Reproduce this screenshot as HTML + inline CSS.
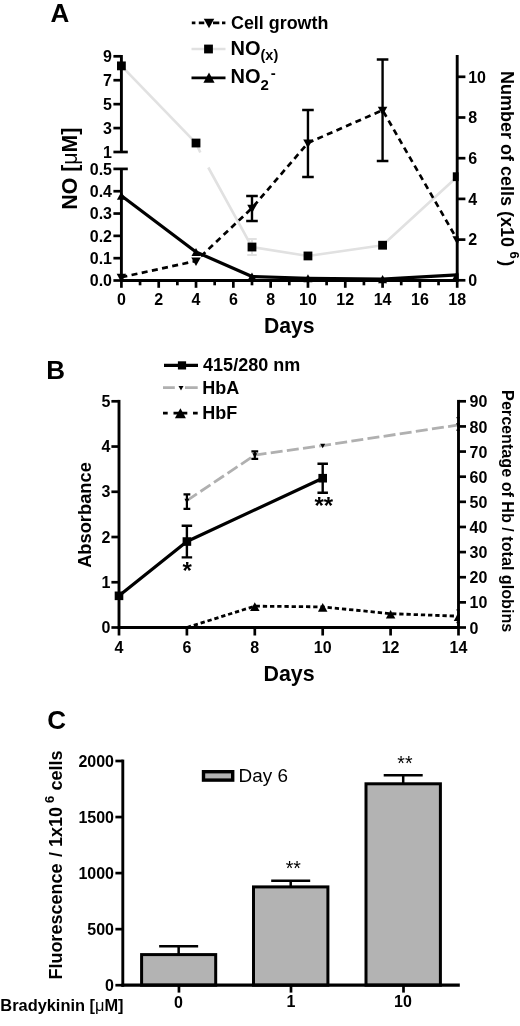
<!DOCTYPE html>
<html lang="en"><head><meta charset="utf-8"><title>Figure</title>
<style>html,body{margin:0;padding:0;background:#fff;}body{width:520px;height:1026px;overflow:hidden;}svg{display:block;font-family:"Liberation Sans", Arial, sans-serif;}.b{font-weight:bold;}.ax{stroke:#000;stroke-width:2.9;fill:none;stroke-linecap:butt;}.tk{stroke:#000;stroke-width:2.7;fill:none;}.eb{stroke:#000;stroke-width:2.2;fill:none;}</style></head><body>
<svg width="520" height="1026" viewBox="0 0 520 1026" role="img" aria-label="Figure panels A, B and C">
<rect width="520" height="1026" fill="#fff"/>
<text x="50.4" y="21.6" font-size="26" text-anchor="start" class="b">A</text>
<clipPath id="ca"><rect x="0" y="0" width="458.65" height="340"/></clipPath><g clip-path="url(#ca)">
<polyline points="121.40,65.87 196.02,143.03 200.30,152.50" fill="none" stroke="#e1e1e1" stroke-width="2.6" stroke-linejoin="round"/>
<polyline points="208.30,167.50 251.99,247.02 307.96,255.95 382.58,245.23 457.20,176.71" fill="none" stroke="#e1e1e1" stroke-width="2.6" stroke-linejoin="round"/>
<path d="M247.24 239.00H256.74M251.99 239.00V255.00M247.24 255.00H256.74" style="stroke:#e1e1e1;stroke-width:2;fill:none"/>
<polyline points="121.40,195.68 196.02,251.93 251.99,276.48 307.96,278.27 382.58,279.16 457.20,274.92" fill="none" stroke="#000" stroke-width="3.2" stroke-linejoin="round"/>
<polyline points="121.40,277.25 196.02,260.97 251.99,208.06 307.96,142.94 382.58,110.17 457.20,239.60" fill="none" stroke="#000" stroke-width="2.7" stroke-dasharray="6 4.4" stroke-linejoin="round"/>
<path d="M246.19 196.00H257.79M251.99 196.00V221.00M246.19 221.00H257.79" style="stroke:#000;stroke-width:2.4;fill:none"/>
<path d="M302.16 110.00H313.76M307.96 110.00V177.00M302.16 177.00H313.76" style="stroke:#000;stroke-width:2.4;fill:none"/>
<path d="M376.78 59.50H388.38M382.58 59.50V161.00M376.78 161.00H388.38" style="stroke:#000;stroke-width:2.4;fill:none"/>
<polygon points="121.40,282.38 116.65,273.83 126.15,273.83" fill="#000"/>
<polygon points="196.02,266.10 191.27,257.55 200.77,257.55" fill="#000"/>
<polygon points="251.99,213.19 247.24,204.64 256.74,204.64" fill="#000"/>
<polygon points="307.96,148.07 303.21,139.52 312.71,139.52" fill="#000"/>
<polygon points="382.58,115.30 377.83,106.75 387.33,106.75" fill="#000"/>
<polygon points="457.20,244.73 452.45,236.18 461.95,236.18" fill="#000"/>
<polygon points="121.40,191.63 116.90,199.73 125.90,199.73" fill="#000"/>
<polygon points="196.02,247.88 191.52,255.98 200.52,255.98" fill="#000"/>
<polygon points="251.99,272.43 247.49,280.53 256.49,280.53" fill="#000"/>
<polygon points="307.96,274.22 303.46,282.32 312.46,282.32" fill="#000"/>
<polygon points="382.58,275.11 378.08,283.21 387.08,283.21" fill="#000"/>
<polygon points="457.20,270.87 452.70,278.97 461.70,278.97" fill="#000"/>
<rect x="117.00" y="61.47" width="8.80" height="8.80" fill="#000"/>
<rect x="191.62" y="138.63" width="8.80" height="8.80" fill="#000"/>
<rect x="247.59" y="242.62" width="8.80" height="8.80" fill="#000"/>
<rect x="303.56" y="251.55" width="8.80" height="8.80" fill="#000"/>
<rect x="378.18" y="240.83" width="8.80" height="8.80" fill="#000"/>
<rect x="452.80" y="172.31" width="8.80" height="8.80" fill="#000"/>
</g>
<line x1="121.40" y1="55.00" x2="121.40" y2="152.00" class="ax"/>
<line x1="113.40" y1="56.30" x2="121.40" y2="56.30" class="tk"/>
<line x1="113.40" y1="80.22" x2="121.40" y2="80.22" class="tk"/>
<line x1="113.40" y1="104.15" x2="121.40" y2="104.15" class="tk"/>
<line x1="113.40" y1="128.07" x2="121.40" y2="128.07" class="tk"/>
<line x1="113.40" y1="152.00" x2="127.80" y2="152.00" class="tk"/>
<line x1="121.40" y1="168.90" x2="121.40" y2="281.90" class="ax"/>
<line x1="113.40" y1="168.90" x2="127.80" y2="168.90" class="tk"/>
<line x1="113.40" y1="191.22" x2="121.40" y2="191.22" class="tk"/>
<line x1="113.40" y1="213.54" x2="121.40" y2="213.54" class="tk"/>
<line x1="113.40" y1="235.86" x2="121.40" y2="235.86" class="tk"/>
<line x1="113.40" y1="258.18" x2="121.40" y2="258.18" class="tk"/>
<line x1="113.40" y1="280.50" x2="121.40" y2="280.50" class="tk"/>
<line x1="120.00" y1="280.50" x2="458.60" y2="280.50" class="ax"/>
<line x1="121.40" y1="280.50" x2="121.40" y2="287.80" class="tk"/>
<line x1="140.06" y1="280.50" x2="140.06" y2="285.30" class="tk"/>
<line x1="158.71" y1="280.50" x2="158.71" y2="287.80" class="tk"/>
<line x1="177.37" y1="280.50" x2="177.37" y2="285.30" class="tk"/>
<line x1="196.02" y1="280.50" x2="196.02" y2="287.80" class="tk"/>
<line x1="214.68" y1="280.50" x2="214.68" y2="285.30" class="tk"/>
<line x1="233.33" y1="280.50" x2="233.33" y2="287.80" class="tk"/>
<line x1="251.99" y1="280.50" x2="251.99" y2="285.30" class="tk"/>
<line x1="270.64" y1="280.50" x2="270.64" y2="287.80" class="tk"/>
<line x1="289.30" y1="280.50" x2="289.30" y2="285.30" class="tk"/>
<line x1="307.96" y1="280.50" x2="307.96" y2="287.80" class="tk"/>
<line x1="326.61" y1="280.50" x2="326.61" y2="285.30" class="tk"/>
<line x1="345.27" y1="280.50" x2="345.27" y2="287.80" class="tk"/>
<line x1="363.92" y1="280.50" x2="363.92" y2="285.30" class="tk"/>
<line x1="382.58" y1="280.50" x2="382.58" y2="287.80" class="tk"/>
<line x1="401.23" y1="280.50" x2="401.23" y2="285.30" class="tk"/>
<line x1="419.89" y1="280.50" x2="419.89" y2="287.80" class="tk"/>
<line x1="438.54" y1="280.50" x2="438.54" y2="285.30" class="tk"/>
<line x1="457.20" y1="280.50" x2="457.20" y2="287.80" class="tk"/>
<line x1="457.20" y1="55.00" x2="457.20" y2="281.90" class="ax"/>
<line x1="457.20" y1="280.30" x2="465.40" y2="280.30" class="tk"/>
<line x1="457.20" y1="239.60" x2="465.40" y2="239.60" class="tk"/>
<line x1="457.20" y1="198.90" x2="465.40" y2="198.90" class="tk"/>
<line x1="457.20" y1="158.20" x2="465.40" y2="158.20" class="tk"/>
<line x1="457.20" y1="117.50" x2="465.40" y2="117.50" class="tk"/>
<line x1="457.20" y1="76.80" x2="465.40" y2="76.80" class="tk"/>
<text x="112" y="62.0" font-size="16" text-anchor="end" class="b">9</text>
<text x="112" y="85.925" font-size="16" text-anchor="end" class="b">7</text>
<text x="112" y="109.85000000000001" font-size="16" text-anchor="end" class="b">5</text>
<text x="112" y="133.77499999999998" font-size="16" text-anchor="end" class="b">3</text>
<text x="112" y="157.7" font-size="16" text-anchor="end" class="b">1</text>
<text x="112" y="174.6" font-size="16" text-anchor="end" class="b">0.5</text>
<text x="112" y="196.92" font-size="16" text-anchor="end" class="b">0.4</text>
<text x="112" y="219.24" font-size="16" text-anchor="end" class="b">0.3</text>
<text x="112" y="241.56" font-size="16" text-anchor="end" class="b">0.2</text>
<text x="112" y="263.88" font-size="16" text-anchor="end" class="b">0.1</text>
<text x="112" y="286.2" font-size="16" text-anchor="end" class="b">0.0</text>
<text x="121.4" y="305" font-size="16" text-anchor="middle" class="b">0</text>
<text x="158.7111111111111" y="305" font-size="16" text-anchor="middle" class="b">2</text>
<text x="196.0222222222222" y="305" font-size="16" text-anchor="middle" class="b">4</text>
<text x="233.33333333333331" y="305" font-size="16" text-anchor="middle" class="b">6</text>
<text x="270.6444444444444" y="305" font-size="16" text-anchor="middle" class="b">8</text>
<text x="307.9555555555555" y="305" font-size="16" text-anchor="middle" class="b">10</text>
<text x="345.26666666666665" y="305" font-size="16" text-anchor="middle" class="b">12</text>
<text x="382.57777777777767" y="305" font-size="16" text-anchor="middle" class="b">14</text>
<text x="419.8888888888888" y="305" font-size="16" text-anchor="middle" class="b">16</text>
<text x="457.19999999999993" y="305" font-size="16" text-anchor="middle" class="b">18</text>
<text x="468.2" y="286.0" font-size="16" text-anchor="start" class="b">0</text>
<text x="468.2" y="245.3" font-size="16" text-anchor="start" class="b">2</text>
<text x="468.2" y="204.6" font-size="16" text-anchor="start" class="b">4</text>
<text x="468.2" y="163.9" font-size="16" text-anchor="start" class="b">6</text>
<text x="468.2" y="123.2" font-size="16" text-anchor="start" class="b">8</text>
<text x="468.2" y="82.50000000000001" font-size="16" text-anchor="start" class="b">10</text>
<text x="289.3" y="333.3" font-size="21.2" text-anchor="middle" class="b">Days</text>
<text x="77.4" y="168.6" font-size="21.3" text-anchor="middle" class="b" transform="rotate(-90 77.4 168.6)">NO [<tspan font-weight="normal">μ</tspan>M]</text>
<text x="500.5" y="168.6" font-size="18" text-anchor="middle" class="b" transform="rotate(90 500.5 168.6)">Number of cells (x10<tspan dy="-9.5" dx="4.5" font-size="13">6</tspan><tspan dy="9.5" dx="1.5">)</tspan></text>
<path d="M191.8 22.8h3.6M198.8 22.8h5.5M213 22.8h6.3M222 22.8h3.4" stroke="#000" stroke-width="2.8" fill="none"/>
<polygon points="209.00,28.27 203.75,18.82 214.25,18.82" fill="#000"/>
<text x="231" y="29" font-size="17.9" text-anchor="start" class="b">Cell growth</text>
<polyline points="191.50,49.00 225.50,49.00" fill="none" stroke="#e1e1e1" stroke-width="2.6" stroke-linejoin="round"/>
<rect x="204.10" y="44.60" width="8.80" height="8.80" fill="#000"/>
<text x="230.5" y="54.8" font-size="20" text-anchor="start" class="b">NO<tspan dy="5.5" font-size="14.5">(x)</tspan></text>
<polyline points="191.50,77.80 225.50,77.80" fill="none" stroke="#000" stroke-width="2.8" stroke-linejoin="round"/>
<polygon points="209.00,72.56 203.40,82.64 214.60,82.64" fill="#000"/>
<text x="230.5" y="83.3" font-size="20" text-anchor="start" class="b">NO<tspan dy="7" font-size="15">2</tspan><tspan dy="-12.5" dx="2" font-size="15">-</tspan></text>
<text x="46.3" y="379.2" font-size="26" text-anchor="start" class="b">B</text>
<clipPath id="cb"><rect x="0" y="340" width="459.95" height="340"/></clipPath><g clip-path="url(#cb)">
<polyline points="186.90,500.58 254.80,455.09 322.70,445.53 458.50,424.93" fill="none" stroke="#b0b0b0" stroke-width="2.8" stroke-dasharray="12 4.3" stroke-linejoin="round"/>
<polyline points="186.90,627.50 254.80,606.14 322.70,606.89 390.60,613.68 458.50,616.19" fill="none" stroke="#000" stroke-width="2.8" stroke-dasharray="4.3 2.9" stroke-linejoin="round"/>
<polyline points="119.00,595.83 186.90,541.54 322.70,478.21" fill="none" stroke="#000" stroke-width="3.2" stroke-linejoin="round"/>
<path d="M183.50 494.29H190.30M186.90 494.29V508.87M183.50 508.87H190.30" style="stroke:#000;stroke-width:2.2;fill:none"/>
<path d="M251.40 451.32H258.20M254.80 451.32V458.86M251.40 458.86H258.20" style="stroke:#000;stroke-width:2.2;fill:none"/>
<path d="M181.65 525.71H192.15M186.90 525.71V557.38M181.65 557.38H192.15" style="stroke:#000;stroke-width:2.4;fill:none"/>
<path d="M317.45 463.73H327.95M322.70 463.73V492.68M317.45 492.68H327.95" style="stroke:#000;stroke-width:2.4;fill:none"/>
<path d="M456.50 417.64H460.50M458.50 417.64V430.20M456.50 430.20H460.50" style="stroke:#000;stroke-width:1.4;fill:none"/>
<path d="M456.50 609.91H460.50M458.50 609.91V622.47M456.50 622.47H460.50" style="stroke:#000;stroke-width:1.4;fill:none"/>
<polygon points="186.90,503.28 184.40,498.78 189.40,498.78" fill="#000"/>
<polygon points="254.80,457.79 252.30,453.29 257.30,453.29" fill="#000"/>
<polygon points="322.70,448.23 320.20,443.73 325.20,443.73" fill="#000"/>
<polygon points="458.50,427.63 456.00,423.13 461.00,423.13" fill="#000"/>
<polygon points="254.80,602.36 250.05,610.91 259.55,610.91" fill="#000"/>
<polygon points="322.70,603.12 317.95,611.67 327.45,611.67" fill="#000"/>
<polygon points="390.60,609.90 385.85,618.45 395.35,618.45" fill="#000"/>
<polygon points="458.50,612.42 453.75,620.97 463.25,620.97" fill="#000"/>
<rect x="114.70" y="591.53" width="8.60" height="8.60" fill="#000"/>
<rect x="182.60" y="537.24" width="8.60" height="8.60" fill="#000"/>
<rect x="318.40" y="473.91" width="8.60" height="8.60" fill="#000"/>
</g>
<text x="187.2" y="578.8" font-size="24" text-anchor="middle" class="b">*</text>
<text x="323.8" y="514.2" font-size="24" text-anchor="middle" class="b">**</text>
<line x1="119.00" y1="399.90" x2="119.00" y2="628.90" class="ax"/>
<line x1="111.40" y1="627.50" x2="119.00" y2="627.50" class="tk"/>
<line x1="111.40" y1="582.26" x2="119.00" y2="582.26" class="tk"/>
<line x1="111.40" y1="537.02" x2="119.00" y2="537.02" class="tk"/>
<line x1="111.40" y1="491.78" x2="119.00" y2="491.78" class="tk"/>
<line x1="111.40" y1="446.54" x2="119.00" y2="446.54" class="tk"/>
<line x1="111.40" y1="401.30" x2="119.00" y2="401.30" class="tk"/>
<line x1="117.70" y1="627.50" x2="459.80" y2="627.50" class="ax"/>
<line x1="119.00" y1="627.50" x2="119.00" y2="635.50" class="tk"/>
<line x1="186.90" y1="627.50" x2="186.90" y2="635.50" class="tk"/>
<line x1="254.80" y1="627.50" x2="254.80" y2="635.50" class="tk"/>
<line x1="322.70" y1="627.50" x2="322.70" y2="635.50" class="tk"/>
<line x1="390.60" y1="627.50" x2="390.60" y2="635.50" class="tk"/>
<line x1="458.50" y1="627.50" x2="458.50" y2="635.50" class="tk"/>
<line x1="458.50" y1="399.90" x2="458.50" y2="628.90" class="ax"/>
<line x1="458.50" y1="627.50" x2="466.00" y2="627.50" class="tk"/>
<line x1="458.50" y1="602.37" x2="466.00" y2="602.37" class="tk"/>
<line x1="458.50" y1="577.23" x2="466.00" y2="577.23" class="tk"/>
<line x1="458.50" y1="552.10" x2="466.00" y2="552.10" class="tk"/>
<line x1="458.50" y1="526.97" x2="466.00" y2="526.97" class="tk"/>
<line x1="458.50" y1="501.83" x2="466.00" y2="501.83" class="tk"/>
<line x1="458.50" y1="476.70" x2="466.00" y2="476.70" class="tk"/>
<line x1="458.50" y1="451.57" x2="466.00" y2="451.57" class="tk"/>
<line x1="458.50" y1="426.43" x2="466.00" y2="426.43" class="tk"/>
<line x1="458.50" y1="401.30" x2="466.00" y2="401.30" class="tk"/>
<text x="110.3" y="633.2" font-size="16" text-anchor="end" class="b">0</text>
<text x="110.3" y="587.96" font-size="16" text-anchor="end" class="b">1</text>
<text x="110.3" y="542.72" font-size="16" text-anchor="end" class="b">2</text>
<text x="110.3" y="497.48" font-size="16" text-anchor="end" class="b">3</text>
<text x="110.3" y="452.24" font-size="16" text-anchor="end" class="b">4</text>
<text x="110.3" y="407.0" font-size="16" text-anchor="end" class="b">5</text>
<text x="119.0" y="652.5" font-size="16" text-anchor="middle" class="b">4</text>
<text x="186.9" y="652.5" font-size="16" text-anchor="middle" class="b">6</text>
<text x="254.8" y="652.5" font-size="16" text-anchor="middle" class="b">8</text>
<text x="322.7" y="652.5" font-size="16" text-anchor="middle" class="b">10</text>
<text x="390.6" y="652.5" font-size="16" text-anchor="middle" class="b">12</text>
<text x="458.5" y="652.5" font-size="16" text-anchor="middle" class="b">14</text>
<text x="469.5" y="633.6" font-size="16" text-anchor="start" class="b">0</text>
<text x="469.5" y="608.4666666666667" font-size="16" text-anchor="start" class="b">10</text>
<text x="469.5" y="583.3333333333334" font-size="16" text-anchor="start" class="b">20</text>
<text x="469.5" y="558.2" font-size="16" text-anchor="start" class="b">30</text>
<text x="469.5" y="533.0666666666667" font-size="16" text-anchor="start" class="b">40</text>
<text x="469.5" y="507.93333333333334" font-size="16" text-anchor="start" class="b">50</text>
<text x="469.5" y="482.8" font-size="16" text-anchor="start" class="b">60</text>
<text x="469.5" y="457.6666666666667" font-size="16" text-anchor="start" class="b">70</text>
<text x="469.5" y="432.53333333333336" font-size="16" text-anchor="start" class="b">80</text>
<text x="469.5" y="407.40000000000003" font-size="16" text-anchor="start" class="b">90</text>
<text x="289.1" y="680.5" font-size="21.4" text-anchor="middle" class="b">Days</text>
<text x="90.5" y="515" font-size="18.3" text-anchor="middle" class="b" transform="rotate(-90 90.5 515)">Absorbance</text>
<text x="501.8" y="511.2" font-size="16.15" text-anchor="middle" class="b" transform="rotate(90 501.8 511.2)">Percentage of Hb / total globins</text>
<polyline points="164.00,365.40 198.00,365.40" fill="none" stroke="#000" stroke-width="3.4" stroke-linejoin="round"/>
<rect x="177.90" y="361.30" width="8.20" height="8.20" fill="#000"/>
<text x="203.1" y="371.4" font-size="18" text-anchor="start" class="b">415/280 nm</text>
<path d="M163 387.6h11.8M185 387.6h12.7" stroke="#b0b0b0" stroke-width="2.8" fill="none"/>
<polygon points="181.00,390.50 178.50,386.00 183.50,386.00" fill="#000"/>
<text x="202.3" y="393.8" font-size="18" text-anchor="start" class="b">HbA</text>
<path d="M163 413.2h4.7M173.5 413.2h13.8M193 413.2h4.7" stroke="#000" stroke-width="2.8" fill="none"/>
<polygon points="180.40,408.25 174.90,418.15 185.90,418.15" fill="#000"/>
<text x="202.3" y="419.2" font-size="18" text-anchor="start" class="b">HbF</text>
<text x="47.2" y="728.8" font-size="26" text-anchor="start" class="b">C</text>
<path d="M178.65 954.60V946.20M159.15 946.20H198.15" style="stroke:#000;stroke-width:2.5;fill:none"/>
<rect x="141.60" y="954.60" width="74.10" height="30.60" fill="#b3b3b3" stroke="#000" stroke-width="3"/>
<line x1="178.95" y1="985.20" x2="178.95" y2="992.60" class="tk"/>
<path d="M290.70 886.90V880.70M271.20 880.70H310.20" style="stroke:#000;stroke-width:2.5;fill:none"/>
<rect x="253.50" y="886.90" width="74.40" height="98.30" fill="#b3b3b3" stroke="#000" stroke-width="3"/>
<line x1="291.00" y1="985.20" x2="291.00" y2="992.60" class="tk"/>
<path d="M403.20 783.80V775.20M383.70 775.20H422.70" style="stroke:#000;stroke-width:2.5;fill:none"/>
<rect x="366.00" y="783.80" width="74.40" height="201.40" fill="#b3b3b3" stroke="#000" stroke-width="3"/>
<line x1="403.50" y1="985.20" x2="403.50" y2="992.60" class="tk"/>
<line x1="122.80" y1="759.60" x2="122.80" y2="986.80" class="ax"/>
<line x1="121.50" y1="985.20" x2="459.80" y2="985.20" class="ax" style="stroke-width:3.3"/>
<line x1="115.40" y1="985.20" x2="122.80" y2="985.20" class="tk"/>
<line x1="115.40" y1="929.15" x2="122.80" y2="929.15" class="tk"/>
<line x1="115.40" y1="873.10" x2="122.80" y2="873.10" class="tk"/>
<line x1="115.40" y1="817.05" x2="122.80" y2="817.05" class="tk"/>
<line x1="115.40" y1="761.00" x2="122.80" y2="761.00" class="tk"/>
<text x="114" y="990.9000000000001" font-size="16" text-anchor="end" class="b">0</text>
<text x="114" y="934.8500000000001" font-size="16" text-anchor="end" class="b">500</text>
<text x="114" y="878.8000000000001" font-size="16" text-anchor="end" class="b">1000</text>
<text x="114" y="822.75" font-size="16" text-anchor="end" class="b">1500</text>
<text x="114" y="766.7" font-size="16" text-anchor="end" class="b">2000</text>
<text x="61.7" y="979.6" font-size="18" text-anchor="start" class="b" transform="rotate(-90 61.7 979.6)">Fluorescence<tspan dx="1.5"> / 1x10</tspan><tspan dy="-8" dx="4" font-size="13">6</tspan><tspan dy="8" dx="0.3"> cells</tspan></text>
<text x="0.3" y="1010.8" font-size="16.4" text-anchor="start" class="b">Bradykinin [<tspan font-weight="normal">μ</tspan>M]</text>
<text x="178.4" y="1007.5" font-size="16" text-anchor="middle" class="b">0</text>
<text x="291" y="1007.4" font-size="16" text-anchor="middle" class="b">1</text>
<text x="403" y="1007.3" font-size="16" text-anchor="middle" class="b">10</text>
<text x="293.3" y="875" font-size="19.5" text-anchor="middle">**</text>
<text x="404.9" y="770.4" font-size="19.5" text-anchor="middle">**</text>
<rect x="203.5" y="771.7" width="29.2" height="8.4" fill="#b3b3b3" stroke="#000" stroke-width="3.4"/>
<text x="238.6" y="782" font-size="18.9" text-anchor="start">Day 6</text>
</svg></body></html>
